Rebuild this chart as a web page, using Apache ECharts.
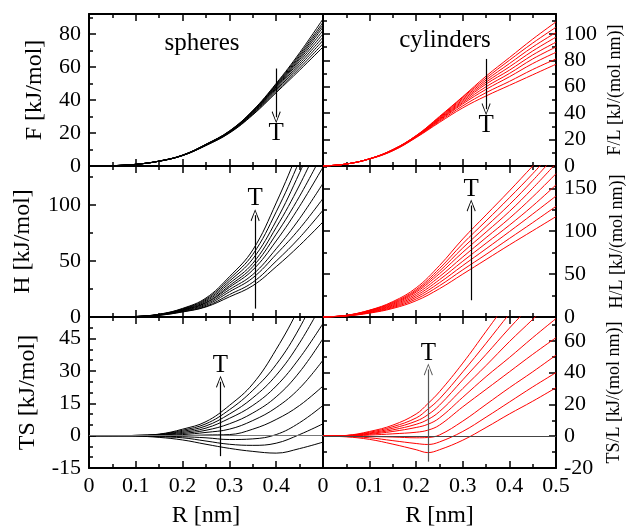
<!DOCTYPE html>
<html>
<head>
<meta charset="utf-8">
<script src="https://cdn.jsdelivr.net/npm/echarts@6/dist/echarts.min.js"></script>
<style>
html, body { margin: 0; padding: 0; background: #fff; }
#main { width: 628px; height: 527px; }
</style>
</head>
<body>
<div id="main"></div>
<script>
var dom = document.getElementById('main');
var myChart = echarts.init(dom, null, { renderer: 'canvas' });

// radius grid (nm), shared by the curves
var R = [0, 0.05, 0.1, 0.15, 0.2, 0.25, 0.3, 0.35, 0.4, 0.45, 0.5];
// finer grid for TS/L of cylinders (minimum near 0.23 nm)
var Rts = [0, 0.05, 0.1, 0.15, 0.2, 0.225, 0.25, 0.3, 0.35, 0.4, 0.45, 0.5];

// spheres, one row per temperature (lowest T first)
var sphereF = [
    [0, 0.2, 1.0, 3.0, 6.6, 13.2, 21.2, 33.6, 50.0, 68.5, 89],
    [0, 0.2, 1.0, 3.0, 6.6, 13.1, 21.1, 33.4, 49.5, 67.5, 87],
    [0, 0.2, 1.0, 3.0, 6.5, 13.0, 21.0, 33.2, 49.0, 66.5, 85.5],
    [0, 0.2, 1.0, 3.0, 6.5, 13.0, 20.9, 33.0, 48.5, 65.5, 84],
    [0, 0.2, 1.0, 2.9, 6.5, 12.9, 20.8, 32.7, 48.0, 64.5, 82],
    [0, 0.2, 1.0, 2.9, 6.4, 12.8, 20.7, 32.4, 47.5, 63.3, 80],
    [0, 0.2, 1.0, 2.9, 6.4, 12.7, 20.5, 32.1, 46.8, 62.0, 78],
    [0, 0.2, 1.0, 2.9, 6.4, 12.6, 20.3, 31.7, 46.0, 60.7, 76],
    [0, 0.2, 1.0, 2.9, 6.3, 12.5, 20.1, 31.3, 45.2, 59.3, 74],
    [0, 0.2, 1.0, 2.9, 6.3, 12.4, 19.9, 30.9, 44.4, 58.0, 72]
];
var sphereH = [
    [0, 0.05, 0.3, 1.5, 4.5, 9.0, 18.0, 28, 45, 64, 85],
    [0, 0.05, 0.3, 1.6, 4.8, 9.5, 20.0, 31, 50, 71, 95.5],
    [0, 0.05, 0.35, 1.8, 5.2, 10.5, 22.5, 35, 56, 79, 106],
    [0, 0.05, 0.35, 1.9, 5.6, 11.5, 24.5, 38, 61, 88, 119.5],
    [0, 0.05, 0.4, 2.0, 6.0, 12.5, 26.5, 42, 68, 99, 134],
    [0, 0.05, 0.4, 2.1, 6.3, 13.0, 28.0, 45, 74, 108, 147],
    [0, 0.05, 0.4, 2.2, 6.6, 14.0, 30.0, 48, 80, 118, 162],
    [0, 0.05, 0.45, 2.3, 7.0, 15.0, 32.0, 52, 86, 129, 176],
    [0, 0.05, 0.45, 2.4, 7.3, 16.0, 34.0, 56, 94, 140, 192],
    [0, 0.05, 0.5, 2.5, 7.7, 17.0, 36.0, 60, 102, 152, 210]
];
var sphereTS = [
    [0, 0, -0.2, -0.8, -2.0, -4.0, -5.9, -7.3, -8.1, -6.0, -3],
    [0, 0, -0.1, -0.5, -1.0, -2.5, -4.0, -4.5, -3.5, 0.5, 5.5],
    [0, 0, 0, -0.3, -0.5, -1.0, -1.8, -1.5, 0.5, 6, 14],
    [0, 0, 0, 0, 0, 0.3, 0.5, 3.0, 7.5, 14, 23],
    [0, 0, 0, 0.2, 0.5, 1.5, 3.0, 7.0, 13, 22, 35],
    [0, 0, 0, 0.3, 1.0, 2.5, 5.5, 10.5, 18, 29.5, 45],
    [0, 0, 0.1, 0.4, 1.5, 3.5, 8.0, 14.0, 23, 36, 52],
    [0, 0, 0.1, 0.5, 2.0, 4.5, 10.0, 17.5, 28, 43, 62],
    [0, 0, 0.1, 0.6, 2.5, 5.5, 12.0, 21.0, 33, 50, 72],
    [0, 0, 0.1, 0.7, 3.0, 6.5, 14.0, 24.0, 40, 60, 85]
];

// cylinders, per unit length (lowest T first)
var cylF = [
    [0, 1.5, 5.5, 12.5, 23.0, 37.5, 52.5, 68.0, 82.0, 96.0, 109],
    [0, 1.5, 5.5, 12.4, 23.0, 37.0, 52.0, 66.5, 80.0, 93.0, 105],
    [0, 1.5, 5.5, 12.3, 22.8, 36.5, 51.0, 65.0, 77.5, 90.0, 101],
    [0, 1.5, 5.4, 12.2, 22.6, 36.0, 50.0, 63.5, 75.0, 87.0, 97.5],
    [0, 1.5, 5.4, 12.1, 22.4, 35.5, 49.0, 62.0, 72.5, 84.0, 93.7],
    [0, 1.5, 5.4, 12.0, 22.2, 35.0, 48.0, 60.0, 70.0, 81.0, 90],
    [0, 1.5, 5.4, 11.9, 22.0, 34.5, 47.0, 58.0, 67.5, 77.5, 86],
    [0, 1.5, 5.3, 11.7, 21.8, 33.8, 45.5, 55.5, 64.0, 73.0, 81],
    [0, 1.5, 5.3, 11.5, 21.5, 33.0, 44.0, 53.0, 61.0, 69.0, 77]
];
var cylH = [
    [0, 1.2, 4.5, 10.0, 19.0, 33.0, 50.0, 67.0, 84.0, 100.5, 117],
    [0, 1.3, 5.0, 11.0, 21.0, 36.5, 55.0, 73.0, 91.5, 110.0, 129],
    [0, 1.4, 5.5, 12.0, 23.0, 40.0, 60.0, 79.5, 99.5, 120.0, 141],
    [0, 1.5, 6.0, 13.0, 25.0, 43.5, 65.0, 86.0, 107.0, 129.5, 154],
    [0, 1.6, 6.5, 14.0, 27.0, 47.0, 70.0, 92.5, 115.0, 140.0, 167],
    [0, 1.7, 7.0, 15.0, 29.0, 50.5, 75.5, 99.0, 123.0, 150.0, 179],
    [0, 1.8, 7.5, 16.0, 30.5, 53.5, 80.5, 105.5, 131.0, 159.0, 189],
    [0, 1.9, 7.8, 17.0, 32.0, 56.5, 85.5, 112.0, 139.0, 167.0, 197],
    [0, 2.0, 8.0, 18.0, 34.0, 60.0, 91.0, 119.0, 147.0, 176.0, 205]
];
var cylTS = [
    [0, -0.4, -2.0, -5.0, -8.5, -10.3, -8.5, -2.5, 5.5, 14.0, 22.0, 30.5],
    [0, -0.2, -1.0, -2.8, -4.6, -5.2, -3.6, 3.0, 12.0, 21.5, 31.0, 40],
    [0, 0, -0.2, -0.5, -1.0, -0.8, 0.8, 9.5, 20.0, 30.5, 40.5, 51],
    [0, 0.1, 0.7, 1.5, 2.5, 3.8, 7.0, 18.5, 29.5, 40.5, 51.5, 62],
    [0, 0.2, 1.2, 3.0, 5.5, 7.5, 11.5, 24.5, 37.5, 49.5, 62.0, 74],
    [0, 0.3, 1.6, 4.0, 7.5, 10.5, 15.5, 30.0, 44.5, 59.5, 73.5, 88],
    [0, 0.4, 2.0, 5.0, 9.5, 13.5, 19.5, 35.5, 51.5, 68.0, 83.5, 99],
    [0, 0.4, 2.5, 6.0, 11.5, 17.0, 23.5, 40.5, 58.5, 77.0, 94.5, 112],
    [0, 0.5, 3.0, 7.0, 14.0, 20.5, 28.0, 46.0, 66.0, 86.0, 105.0, 124]
];

// y ranges [min, max, interval, minor splits]
var rangeF = [0, 92, 20, 2];
var rangeFL = [0, 115, 20, 2];
var rangeH = [0, 135, 50, 2];
var rangeHL = [0, 176, 50, 2];
var rangeTS = [-15, 55, 15, 3];
var rangeTSL = [-20, 75, 20, 2];

// arrows: [R, from, to]
var arrowF = [0.4, 59, 29.5];
var arrowFL = [0.35, 81, 43];
var arrowH = [0.355, 7.5, 91];
var arrowHL = [0.318, 19.5, 130];
var arrowTS = [0.281, -9.5, 25];
var arrowTSL = [0.226, -16, 42];

var serif = "'Liberation Serif', 'DejaVu Serif', serif";
var chevron = 'path://M0,10 L5,0 L10,10 L9.1,10.6 L5,1.8 L0.9,10.6 Z';

var grids = [
    { left: 89, top: 14, width: 234, height: 152 },
    { left: 323, top: 14, width: 233, height: 152 },
    { left: 89, top: 166, width: 234, height: 151 },
    { left: 323, top: 166, width: 233, height: 151 },
    { left: 89, top: 317, width: 234, height: 151 },
    { left: 323, top: 317, width: 233, height: 151 }
].map(function (g) {
    g.outerBoundsMode = 'none';
    g.containLabel = false;
    return g;
});

var tickStyle = { color: '#000', width: 1.5 };

function xAxis(g, pos, labels, hideMax) {
    return {
        type: 'value', gridIndex: g, position: pos,
        min: 0, max: 0.5, interval: 0.1,
        axisLine: { show: true, onZero: false, lineStyle: { color: '#000', width: 2 } },
        axisTick: { show: true, inside: true, length: 7, lineStyle: tickStyle },
        minorTick: { show: true, splitNumber: 2, length: 4, lineStyle: tickStyle },
        splitLine: { show: false },
        axisLabel: {
            show: labels, color: '#000', fontFamily: serif, fontSize: 22, margin: 7,
            showMaxLabel: !hideMax, hideOverlap: false,
            formatter: function (v) { return String(+v.toFixed(2)); }
        },
        name: labels ? 'R [nm]' : '',
        nameLocation: 'middle', nameGap: 36,
        nameTextStyle: { color: '#000', fontFamily: serif, fontSize: 24 }
    };
}

function yAxis(g, pos, range, labels, name, nameGap, nameSize) {
    return {
        type: 'value', gridIndex: g, position: pos,
        min: range[0], max: range[1], interval: range[2],
        axisLine: { show: true, onZero: false, lineStyle: { color: '#000', width: 2 } },
        axisTick: { show: true, inside: true, length: 7, lineStyle: tickStyle },
        minorTick: { show: true, splitNumber: range[3], length: 4, lineStyle: tickStyle },
        splitLine: { show: false },
        axisLabel: {
            show: labels, color: '#000', fontFamily: serif, fontSize: 22, margin: 8,
            showMaxLabel: false, hideOverlap: false
        },
        name: name || '', nameLocation: 'middle', nameRotate: 90, nameGap: nameGap || 0,
        nameTextStyle: { color: '#000', fontFamily: serif, fontSize: nameSize || 24 }
    };
}

var xAxes = [];
for (var g = 0; g < 6; g++) {
    var bottomRow = g >= 4;
    xAxes.push(xAxis(g, 'bottom', bottomRow, bottomRow && g % 2 === 0));
    xAxes.push(xAxis(g, 'top', false, false));
}

var yAxes = [
    yAxis(0, 'left', rangeF, true, 'F [kJ/mol]', 42, 24),            // 0
    yAxis(1, 'right', rangeFL, true, 'F/L [kJ/(mol nm)]', 50, 18),   // 1
    yAxis(1, 'left', rangeFL, false),                                // 2
    yAxis(2, 'left', rangeH, true, 'H [kJ/mol]', 54, 24),            // 3
    yAxis(3, 'right', rangeHL, true, 'H/L [kJ/(mol nm)]', 52, 18),   // 4
    yAxis(3, 'left', rangeHL, false),                                // 5
    yAxis(4, 'left', rangeTS, true, 'TS [kJ/mol]', 49, 24),          // 6
    yAxis(5, 'right', rangeTSL, true, 'TS/L [kJ/(mol nm)]', 49, 18), // 7
    yAxis(5, 'left', rangeTSL, false)                                // 8
];
yAxes[6].axisLabel.showMinLabel = true;
yAxes[7].axisLabel.showMinLabel = true;

function arrowLine(a, color) {
    return {
        silent: true, animation: false,
        symbol: ['none', chevron], symbolSize: [9, 12],
        lineStyle: { color: color, width: 1.2, type: 'solid' },
        label: {
            show: true, position: 'end', formatter: 'T', distance: 4,
            color: '#000', fontFamily: serif, fontSize: 25
        },
        data: [[{ coord: [a[0], a[1]] }, { coord: [a[0], a[2]] }]]
    };
}

function zeroLine(color) {
    return {
        silent: true, animation: false, symbol: ['none', 'none'],
        lineStyle: { color: color, width: 1.2, type: 'solid' },
        label: { show: false },
        data: [{ yAxis: 0 }]
    };
}

var series = [];
function addCurves(xs, list, xi, yi, color, arrow, arrowColor, zero) {
    list.forEach(function (vals, k) {
        var s = {
            type: 'line', xAxisIndex: xi, yAxisIndex: yi,
            data: xs.map(function (r, i) { return [r, vals[i]]; }),
            smooth: 0.4,
            showSymbol: false, symbol: 'none', clip: true, silent: true, animation: false,
            lineStyle: { color: color, width: 1 }, z: 3
        };
        if (k === 0 && zero) s.markLine = zeroLine(zero);
        if (k === 1) s.markLine = arrowLine(arrow, arrowColor);
        series.push(s);
    });
}

var black = '#000000';
var red = '#ff0000';
addCurves(R, sphereF, 0, 0, black, arrowF, '#000');
addCurves(R, cylF, 2, 1, red, arrowFL, '#000');
addCurves(R, sphereH, 4, 3, black, arrowH, '#000');
addCurves(R, cylH, 6, 4, red, arrowHL, '#000');
addCurves(R, sphereTS, 8, 6, black, arrowTS, '#000', '#777');
addCurves(Rts, cylTS, 10, 7, red, arrowTSL, '#555', '#444');

option = {
    backgroundColor: '#fff',
    animation: false,
    grid: grids,
    xAxis: xAxes,
    yAxis: yAxes,
    series: series,
    graphic: [
        {
            type: 'text', x: 202, y: 43, silent: true,
            style: { text: 'spheres', font: '25px ' + serif, fill: '#000', align: 'center', verticalAlign: 'middle', textAlign: 'center', textVerticalAlign: 'middle' }
        },
        {
            type: 'text', x: 445, y: 40, silent: true,
            style: { text: 'cylinders', font: '25px ' + serif, fill: '#000', align: 'center', verticalAlign: 'middle', textAlign: 'center', textVerticalAlign: 'middle' }
        }
    ]
};

myChart.setOption(option);
</script>
</body>
</html>
